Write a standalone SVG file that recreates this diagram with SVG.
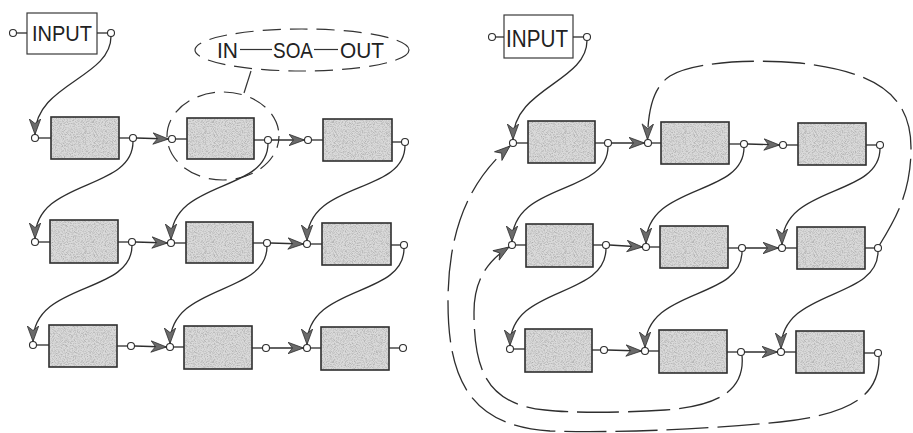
<svg xmlns="http://www.w3.org/2000/svg" width="913" height="433" viewBox="0 0 913 433">
  <style>
    .blk { fill: url(#stipple); stroke: #2e2e2e; stroke-width: 1.6; }
    .inbox { fill: #fff; stroke: #3a3a3a; stroke-width: 1.2; }
    .port { fill: #fff; stroke: #2e2e2e; stroke-width: 1.1; }
    .stub { stroke: #2e2e2e; stroke-width: 1.3; fill: none; }
    .wire { stroke: #2e2e2e; stroke-width: 1.3; fill: none; marker-end: url(#arrow); }
    .loop { stroke: #2e2e2e; stroke-width: 1.3; fill: none; stroke-dasharray: 42 9; marker-end: url(#arrow); }
    .note { stroke: #333; stroke-width: 1.2; fill: none; stroke-dasharray: 18 9; }
    .lead { stroke: #333; stroke-width: 1.2; fill: none; }
    .lbl { font-family: "Liberation Sans", "DejaVu Sans", sans-serif; fill: #222; }
  </style>
  <defs>
    <filter id="grain" x="0" y="0" width="100%" height="100%">
      <feTurbulence type="fractalNoise" baseFrequency="1.1" numOctaves="2" seed="7" result="n"/>
      <feColorMatrix in="n" type="matrix" values="0 0 0 0 0.3  0 0 0 0 0.3  0 0 0 0 0.3  1.5 0 0 0 -0.62"/>
    </filter>
    <pattern id="stipple" patternUnits="userSpaceOnUse" width="120" height="120">
      <rect width="120" height="120" fill="#dadada"/>
      <rect width="120" height="120" filter="url(#grain)"/>
    </pattern>
    <marker id="arrow" markerUnits="userSpaceOnUse" markerWidth="17" markerHeight="13" viewBox="0 0 17 13" refX="16" refY="6.5" orient="auto">
      <path d="M0.5,0.8 L16,6.5 L0.5,12.2 L5,6.5 Z" fill="#6a6a6a" stroke="#2e2e2e" stroke-width="0.8" stroke-linejoin="round"/>
    </marker>
  </defs>

  <!-- ===== left arrangement: 3x3 serpentine chain ===== -->
  <g id="input-left">
    <rect class="inbox" x="27" y="13" width="70" height="41"/>
    <text class="lbl" x="32" y="40.5" font-size="22" textLength="60" lengthAdjust="spacingAndGlyphs">INPUT</text>
    <line class="stub" x1="16.5" y1="33" x2="27" y2="33"/>
    <line class="stub" x1="97" y1="33" x2="107.5" y2="33"/>
    <circle class="port" cx="13" cy="33" r="3.5"/>
    <circle class="port" cx="111" cy="33" r="3.5"/>
  </g>

  <g id="L11">
    <line class="stub" x1="38.5" y1="138" x2="51" y2="138"/><line class="stub" x1="119" y1="138" x2="129.5" y2="138"/>
    <rect class="blk" x="51" y="117" width="68" height="42"/>
    <circle class="port" cx="35" cy="138" r="3.5"/><circle class="port" cx="133" cy="138" r="3.5"/>
  </g>
  <g id="L12">
    <line class="stub" x1="175.5" y1="139" x2="187" y2="139"/><line class="stub" x1="254" y1="140" x2="264.5" y2="140"/>
    <rect class="blk" x="187" y="118" width="67" height="41"/>
    <circle class="port" cx="172" cy="139" r="3.5"/><circle class="port" cx="268" cy="140" r="3.5"/>
  </g>
  <g id="L13">
    <line class="stub" x1="311.5" y1="140" x2="323" y2="140"/><line class="stub" x1="392" y1="142" x2="401.5" y2="142"/>
    <rect class="blk" x="323" y="119" width="69" height="42"/>
    <circle class="port" cx="308" cy="140" r="3.5"/><circle class="port" cx="405" cy="142" r="3.5"/>
  </g>
  <g id="L21">
    <line class="stub" x1="38.5" y1="242" x2="50" y2="242"/><line class="stub" x1="118" y1="242" x2="128.5" y2="242"/>
    <rect class="blk" x="50" y="220" width="68" height="43"/>
    <circle class="port" cx="35" cy="242" r="3.5"/><circle class="port" cx="132" cy="242" r="3.5"/>
  </g>
  <g id="L22">
    <line class="stub" x1="174.5" y1="243" x2="186" y2="243"/><line class="stub" x1="253" y1="243" x2="263.5" y2="243"/>
    <rect class="blk" x="186" y="222" width="67" height="41"/>
    <circle class="port" cx="171" cy="243" r="3.5"/><circle class="port" cx="267" cy="243" r="3.5"/>
  </g>
  <g id="L23">
    <line class="stub" x1="310.5" y1="244" x2="322" y2="244"/><line class="stub" x1="391" y1="245" x2="400.5" y2="245"/>
    <rect class="blk" x="322" y="223" width="69" height="42"/>
    <circle class="port" cx="307" cy="244" r="3.5"/><circle class="port" cx="404" cy="245" r="3.5"/>
  </g>
  <g id="L31">
    <line class="stub" x1="36.5" y1="345" x2="49" y2="345"/><line class="stub" x1="117" y1="346" x2="127.5" y2="346"/>
    <rect class="blk" x="49" y="325" width="68" height="42"/>
    <circle class="port" cx="33" cy="345" r="3.5"/><circle class="port" cx="131" cy="346" r="3.5"/>
  </g>
  <g id="L32">
    <line class="stub" x1="173.5" y1="347" x2="184" y2="347"/><line class="stub" x1="252" y1="348" x2="262.5" y2="348"/>
    <rect class="blk" x="184" y="326" width="68" height="43"/>
    <circle class="port" cx="170" cy="347" r="3.5"/><circle class="port" cx="266" cy="348" r="3.5"/>
  </g>
  <g id="L33">
    <line class="stub" x1="310.5" y1="348" x2="321" y2="348"/><line class="stub" x1="389" y1="348" x2="399.5" y2="348"/>
    <rect class="blk" x="321" y="327" width="68" height="43"/>
    <circle class="port" cx="307" cy="348" r="3.5"/><circle class="port" cx="403" cy="348" r="3.5"/>
  </g>

  <!-- callout: one stage expanded as IN - SOA - OUT -->
  <g id="callout">
    <ellipse class="note" cx="302" cy="50" rx="107" ry="21"/>
    <text class="lbl" x="217" y="57.5" font-size="22" textLength="21" lengthAdjust="spacingAndGlyphs">IN</text>
    <line class="lead" x1="240" y1="49.5" x2="272" y2="49.5"/>
    <text class="lbl" x="273" y="57.5" font-size="22" textLength="40" lengthAdjust="spacingAndGlyphs">SOA</text>
    <line class="lead" x1="314" y1="49.5" x2="338" y2="49.5"/>
    <text class="lbl" x="340" y="57.5" font-size="22" textLength="44" lengthAdjust="spacingAndGlyphs">OUT</text>
    <line class="lead" x1="251" y1="71" x2="244" y2="93"/>
    <ellipse class="note" cx="223" cy="136" rx="56" ry="44" stroke-dashoffset="6"/>
  </g>

  <!-- ===== right arrangement: same chain with feedback loops ===== -->
  <g id="input-right">
    <rect class="inbox" x="504" y="15" width="69" height="43"/>
    <text class="lbl" x="506" y="47" font-size="23" textLength="62" lengthAdjust="spacingAndGlyphs">INPUT</text>
    <line class="stub" x1="495.5" y1="37" x2="504" y2="37"/>
    <line class="stub" x1="573" y1="37" x2="583.5" y2="37"/>
    <circle class="port" cx="492" cy="37" r="3.5"/>
    <circle class="port" cx="587" cy="37" r="3.5"/>
  </g>

  <g id="R11">
    <line class="stub" x1="516.5" y1="143" x2="528" y2="143"/><line class="stub" x1="595" y1="143" x2="604.5" y2="143"/>
    <rect class="blk" x="528" y="121" width="67" height="42"/>
    <circle class="port" cx="513" cy="143" r="3.5"/><circle class="port" cx="608" cy="143" r="3.5"/>
  </g>
  <g id="R12">
    <line class="stub" x1="651.5" y1="143" x2="661" y2="143"/><line class="stub" x1="729" y1="144" x2="740.5" y2="144"/>
    <rect class="blk" x="661" y="122" width="68" height="42"/>
    <circle class="port" cx="648" cy="143" r="3.5"/><circle class="port" cx="744" cy="144" r="3.5"/>
  </g>
  <g id="R13">
    <line class="stub" x1="786.5" y1="145" x2="798" y2="145"/><line class="stub" x1="866" y1="145" x2="876.5" y2="145"/>
    <rect class="blk" x="798" y="123" width="68" height="42"/>
    <circle class="port" cx="783" cy="145" r="3.5"/><circle class="port" cx="880" cy="145" r="3.5"/>
  </g>
  <g id="R21">
    <line class="stub" x1="515.5" y1="245" x2="526" y2="245"/><line class="stub" x1="593" y1="245" x2="602.5" y2="245"/>
    <rect class="blk" x="526" y="224" width="67" height="43"/>
    <circle class="port" cx="512" cy="245" r="3.5"/><circle class="port" cx="606" cy="245" r="3.5"/>
  </g>
  <g id="R22">
    <line class="stub" x1="649.5" y1="247" x2="660" y2="247"/><line class="stub" x1="728" y1="248" x2="738.5" y2="248"/>
    <rect class="blk" x="660" y="226" width="68" height="42"/>
    <circle class="port" cx="646" cy="247" r="3.5"/><circle class="port" cx="742" cy="248" r="3.5"/>
  </g>
  <g id="R23">
    <line class="stub" x1="785.5" y1="248" x2="797" y2="248"/><line class="stub" x1="865" y1="248" x2="874.5" y2="248"/>
    <rect class="blk" x="797" y="227" width="68" height="42"/>
    <circle class="port" cx="782" cy="248" r="3.5"/><circle class="port" cx="878" cy="248" r="3.5"/>
  </g>
  <g id="R31">
    <line class="stub" x1="513.5" y1="349" x2="525" y2="349"/><line class="stub" x1="592" y1="350" x2="600.5" y2="350"/>
    <rect class="blk" x="525" y="329" width="67" height="43"/>
    <circle class="port" cx="510" cy="349" r="3.5"/><circle class="port" cx="604" cy="350" r="3.5"/>
  </g>
  <g id="R32">
    <line class="stub" x1="648.5" y1="351" x2="659" y2="351"/><line class="stub" x1="727" y1="352" x2="737.5" y2="352"/>
    <rect class="blk" x="659" y="330" width="68" height="43"/>
    <circle class="port" cx="645" cy="351" r="3.5"/><circle class="port" cx="741" cy="352" r="3.5"/>
  </g>
  <g id="R33">
    <line class="stub" x1="784.5" y1="352" x2="796" y2="352"/><line class="stub" x1="864" y1="353" x2="874.5" y2="353"/>
    <rect class="blk" x="796" y="331" width="68" height="42"/>
    <circle class="port" cx="781" cy="352" r="3.5"/><circle class="port" cx="878" cy="353" r="3.5"/>
  </g>

  <!-- ===== connectors ===== -->
  <g id="connectors">
    <!-- left: straight links along each row -->
    <path class="wire" d="M136.5,138 L168.5,139"/>
    <path class="wire" d="M271.5,140 L304.5,140"/>
    <path class="wire" d="M135.5,242 L167.5,243"/>
    <path class="wire" d="M270.5,243 L303.5,244"/>
    <path class="wire" d="M134.5,346 L166.5,347"/>
    <path class="wire" d="M269.5,348 L303.5,348"/>
    <!-- left: S-curves down to the next row -->
    <path class="wire" d="M111,36.5 C111,78 35,84 35,134.5"/>
    <path class="wire" d="M133,141.5 C133,192 35,178 35,238.5"/>
    <path class="wire" d="M268,143.5 C268,193 171,179 171,239.5"/>
    <path class="wire" d="M405,145.5 C405,195 307,180 307,240.5"/>
    <path class="wire" d="M132,245.5 C132,295 33,281 33,341.5"/>
    <path class="wire" d="M267,246.5 C267,296 170,283 170,343.5"/>
    <path class="wire" d="M404,248.5 C404,298 307,284 307,344.5"/>

    <!-- right: straight links along each row -->
    <path class="wire" d="M611.5,143 L644.5,143"/>
    <path class="wire" d="M747.5,144 L779.5,145"/>
    <path class="wire" d="M609.5,245 L642.5,247"/>
    <path class="wire" d="M745.5,248 L778.5,248"/>
    <path class="wire" d="M607.5,350 L641.5,351"/>
    <path class="wire" d="M744.5,352 L777.5,352"/>
    <!-- right: S-curves down to the next row -->
    <path class="wire" d="M587,40.5 C587,82 513,88 513,139.5"/>
    <path class="wire" d="M608,146.5 C608,196 512,181 512,241.5"/>
    <path class="wire" d="M744,147.5 C744,197 646,183 646,243.5"/>
    <path class="wire" d="M880,148.5 C880,198 782,184 782,244.5"/>
    <path class="wire" d="M606,248.5 C606,299 510,285 510,345.5"/>
    <path class="wire" d="M742,251.5 C742,301 645,287 645,347.5"/>
    <path class="wire" d="M878,251.5 C878,301 781,288 781,348.5"/>
    <!-- right: dashed feedback loops -->
    <path class="loop" d="M879.5,245 C896,218 911,192 911,148 C911,98 880,72 800,63 C740,58 690,64 670,76 C652,88 648,112 647.5,139.5"/>
    <path class="loop" d="M742,355.5 C745,388 722,406 665,410 C620,413 570,413 545,410 C488,404 474,372 474,312 C474,282 486,262 509,247"/>
    <path class="loop" d="M879,356.5 C880,395 852,414 780,422 C700,430 610,433 550,431 C472,426 448,382 448,302 C448,232 468,182 510,146"/>
  </g>
</svg>
